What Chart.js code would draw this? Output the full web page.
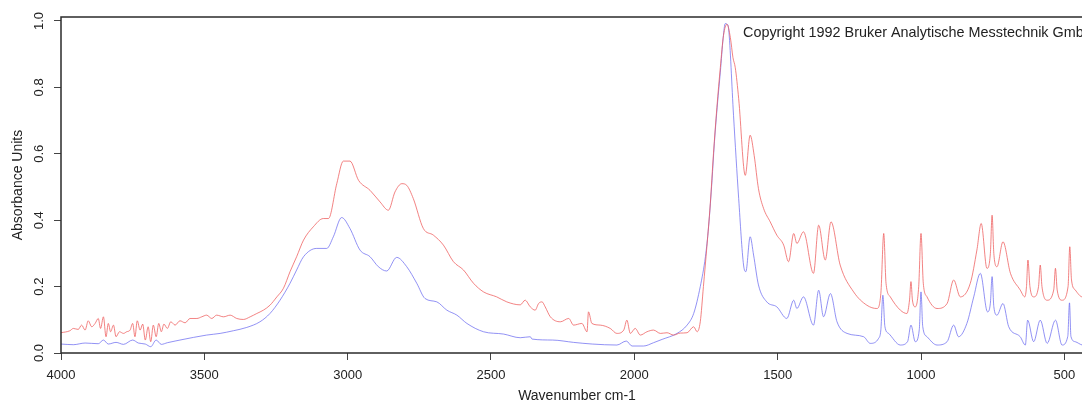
<!DOCTYPE html>
<html>
<head>
<meta charset="utf-8">
<script src="https://cdn.jsdelivr.net/npm/chart.js@4.4.1/dist/chart.umd.min.js"></script>
<style>
  html, body { margin: 0; padding: 0; background: #fff; overflow: hidden; }
  #wrap { width: 1100px; height: 405px; }
</style>
</head>
<body>
<div id="wrap"><canvas id="spectrum" width="1100" height="405"></canvas></div>
<script>
// ========================
// DATA
// ========================
const redWavenumber = [
  4000, 3969, 3957, 3940, 3928, 3916, 3905, 3893, 3881, 3870,
  3862, 3852, 3843, 3835, 3827, 3817, 3808, 3796, 3782, 3771,
  3759, 3750, 3742, 3734, 3724, 3715, 3706, 3696, 3687, 3678,
  3668, 3659, 3650, 3641, 3629, 3617, 3602, 3585, 3567, 3550,
  3526, 3509, 3492, 3474, 3457, 3433, 3410, 3387, 3364, 3340,
  3317, 3294, 3271, 3247, 3224, 3201, 3178, 3154, 3120, 3085,
  3067, 3038, 3015, 2992, 2962, 2922, 2887, 2858, 2835, 2811,
  2794, 2771, 2736, 2701, 2666, 2631, 2596, 2561, 2526, 2480,
  2445, 2398, 2381, 2363, 2346, 2334, 2322, 2311, 2293, 2258,
  2229, 2212, 2183, 2165, 2160, 2148, 2119, 2084, 2061, 2037,
  2026, 2014, 1997, 1979, 1956, 1933, 1909, 1886, 1863, 1840,
  1816, 1793, 1781, 1770, 1759, 1747, 1735, 1724, 1712, 1700,
  1689, 1677, 1665, 1656, 1648, 1636, 1613, 1596, 1582, 1567,
  1549, 1526, 1503, 1479, 1462, 1444, 1433, 1410, 1375, 1357,
  1334, 1314, 1282, 1235, 1189, 1154, 1140, 1130, 1122, 1107,
  1072, 1049, 1040, 1035, 1030, 1020, 1008, 1000, 992, 979,
  944, 909, 886, 863, 828, 805, 790, 770, 758, 752,
  746, 735, 714, 688, 654, 638, 632, 627, 620, 607,
  590, 584, 578, 560, 537, 531, 525, 508, 487, 481,
  475, 462, 437, 400
];
const redAbsorbance = [
  0.061, 0.067, 0.074, 0.071, 0.084, 0.069, 0.097, 0.079, 0.089, 0.104,
  0.074, 0.109, 0.049, 0.089, 0.064, 0.084, 0.049, 0.064, 0.059, 0.064,
  0.069, 0.089, 0.049, 0.097, 0.069, 0.087, 0.039, 0.079, 0.034, 0.084,
  0.049, 0.089, 0.064, 0.087, 0.074, 0.094, 0.084, 0.097, 0.091, 0.104,
  0.104, 0.109, 0.114, 0.104, 0.114, 0.109, 0.114, 0.104, 0.101, 0.109,
  0.119, 0.129, 0.144, 0.169, 0.195, 0.245, 0.290, 0.340, 0.380, 0.405,
  0.405, 0.510, 0.578, 0.578, 0.520, 0.490, 0.455, 0.430, 0.485, 0.510,
  0.505, 0.465, 0.375, 0.355, 0.325, 0.275, 0.250, 0.210, 0.184, 0.169,
  0.154, 0.145, 0.159, 0.139, 0.129, 0.149, 0.154, 0.139, 0.109, 0.094,
  0.104, 0.084, 0.089, 0.064, 0.124, 0.089, 0.084, 0.074, 0.059, 0.069,
  0.099, 0.059, 0.074, 0.054, 0.064, 0.069, 0.059, 0.061, 0.054, 0.060,
  0.061, 0.079, 0.064, 0.094, 0.200, 0.320, 0.450, 0.600, 0.740, 0.860,
  0.956, 0.990, 0.950, 0.890, 0.860, 0.766, 0.535, 0.656, 0.595, 0.495,
  0.435, 0.395, 0.355, 0.325, 0.275, 0.360, 0.330, 0.365, 0.240, 0.385,
  0.280, 0.395, 0.265, 0.184, 0.144, 0.134, 0.180, 0.360, 0.210, 0.169,
  0.129, 0.119, 0.160, 0.215, 0.160, 0.139, 0.200, 0.360, 0.210, 0.169,
  0.134, 0.149, 0.220, 0.169, 0.210, 0.310, 0.390, 0.255, 0.300, 0.415,
  0.300, 0.260, 0.335, 0.240, 0.190, 0.169, 0.200, 0.280, 0.200, 0.169,
  0.200, 0.265, 0.200, 0.159, 0.190, 0.255, 0.190, 0.159, 0.200, 0.320,
  0.220, 0.190, 0.169, 0.170
];

const blueWavenumber = [
  4000, 3957, 3916, 3870, 3852, 3835, 3808, 3782, 3750, 3730,
  3706, 3687, 3668, 3650, 3629, 3602, 3585, 3538, 3492, 3445,
  3399, 3352, 3306, 3271, 3236, 3201, 3178, 3154, 3108, 3073,
  3050, 3021, 2992, 2957, 2922, 2893, 2864, 2829, 2794, 2759,
  2730, 2689, 2654, 2619, 2584, 2526, 2456, 2398, 2363, 2357,
  2285, 2212, 2147, 2061, 2028, 2008, 1968, 1933, 1903, 1851,
  1816, 1793, 1770, 1752, 1741, 1729, 1721, 1710, 1700, 1690,
  1683, 1676, 1671, 1654, 1636, 1619, 1611, 1596, 1584, 1567,
  1538, 1503, 1468, 1444, 1433, 1410, 1375, 1357, 1340, 1316,
  1293, 1258, 1200, 1177, 1148, 1140, 1133, 1126, 1113, 1072,
  1047, 1035, 1020, 1006, 1000, 994, 979, 944, 909, 886,
  869, 840, 816, 793, 768, 758, 752, 746, 735, 714,
  694, 654, 636, 628, 607, 584, 560, 531, 508, 488,
  482, 477, 462, 437, 400
];
const blueAbsorbance = [
  0.027, 0.025, 0.030, 0.028, 0.039, 0.027, 0.032, 0.026, 0.039, 0.030,
  0.027, 0.019, 0.039, 0.026, 0.031, 0.036, 0.039, 0.047, 0.054, 0.059,
  0.067, 0.077, 0.094, 0.119, 0.159, 0.210, 0.250, 0.290, 0.315, 0.315,
  0.350, 0.408, 0.375, 0.310, 0.290, 0.260, 0.247, 0.288, 0.260, 0.210,
  0.164, 0.154, 0.129, 0.114, 0.089, 0.064, 0.057, 0.046, 0.049, 0.042,
  0.039, 0.032, 0.027, 0.024, 0.036, 0.021, 0.021, 0.031, 0.041, 0.059,
  0.084, 0.119, 0.200, 0.290, 0.380, 0.520, 0.630, 0.750, 0.846, 0.950,
  0.992, 0.990, 0.976, 0.716, 0.465, 0.265, 0.245, 0.350, 0.295, 0.205,
  0.154, 0.139, 0.104, 0.159, 0.134, 0.169, 0.084, 0.189, 0.109, 0.179,
  0.094, 0.059, 0.049, 0.029, 0.044, 0.070, 0.174, 0.080, 0.059, 0.024,
  0.034, 0.084, 0.034, 0.070, 0.184, 0.080, 0.049, 0.024, 0.034, 0.084,
  0.049, 0.089, 0.169, 0.240, 0.124, 0.150, 0.230, 0.140, 0.114, 0.149,
  0.079, 0.049, 0.024, 0.099, 0.034, 0.099, 0.029, 0.099, 0.024, 0.050,
  0.151, 0.050, 0.034, 0.024, 0.022
];

const xTickValues = [4000, 3500, 3000, 2500, 2000, 1500, 1000, 500];
const yTickValues = [0.0, 0.2, 0.4, 0.6, 0.8, 1.0];

const toPoints = (xs, ys) => xs.map((x, i) => ({ x, y: ys[i] }));

// ========================
// FRAME + COPYRIGHT NOTE
// ========================
const framePlugin = {
  id: "frame",
  afterDraw(chart) {
    const { ctx, chartArea } = chart;
    ctx.save();
    ctx.strokeStyle = "#2b2b2b";
    ctx.lineWidth = 1.5;
    ctx.strokeRect(chartArea.left, chartArea.top, chartArea.right - chartArea.left, chartArea.bottom - chartArea.top);
    ctx.fillStyle = "#222";
    ctx.font = "14.4px 'Liberation Sans', Arial, sans-serif";
    ctx.textBaseline = "middle";
    ctx.fillText("Copyright 1992 Bruker Analytische Messtechnik GmbH", chartArea.left + 682, 33);
    ctx.restore();
  },
};

Chart.defaults.font.family = "'Liberation Sans', Arial, sans-serif";
Chart.defaults.font.size = 13;
Chart.defaults.color = "#222";

new Chart(document.getElementById("spectrum"), {
  type: "line",
  data: {
    datasets: [
      {
        label: "red",
        data: toPoints(redWavenumber, redAbsorbance),
        borderColor: "rgba(238, 90, 90, 0.75)",
        borderWidth: 1,
        pointRadius: 0,
        cubicInterpolationMode: "monotone",
      },
      {
        label: "blue",
        data: toPoints(blueWavenumber, blueAbsorbance),
        borderColor: "rgba(100, 100, 240, 0.7)",
        borderWidth: 1,
        pointRadius: 0,
        cubicInterpolationMode: "monotone",
      },
    ],
  },
  options: {
    responsive: false,
    animation: false,
    layout: { padding: { left: 10, top: 17, right: 7, bottom: 0 } },
    plugins: { legend: { display: false }, tooltip: { enabled: false } },
    scales: {
      x: {
        type: "linear",
        reverse: true,
        min: 400,
        max: 4000,
        afterBuildTicks: (s) => { s.ticks = xTickValues.map((value) => ({ value })); },
        afterFit: (s) => { s.height = 52; },
        ticks: { padding: 8, maxRotation: 0, callback: (v) => String(v) },
        grid: { drawOnChartArea: false, tickLength: 7, color: "#444" },
        border: { display: false },
        title: { display: true, text: "Wavenumber cm-1", padding: 0, font: { size: 14 } },
      },
      y: {
        min: 0,
        max: 1.012,
        afterBuildTicks: (s) => { s.ticks = yTickValues.map((value) => ({ value })); },
        afterFit: (s) => { s.width = 51; },
        ticks: { padding: 6, minRotation: 90, maxRotation: 90, crossAlign: "center", callback: (v) => v.toFixed(1) },
        grid: { drawOnChartArea: false, tickLength: 7, color: "#444" },
        border: { display: false },
        title: { display: true, text: "Absorbance Units", padding: 0, font: { size: 14 } },
      },
    },
  },
  plugins: [framePlugin],
});
</script>
</body>
</html>
